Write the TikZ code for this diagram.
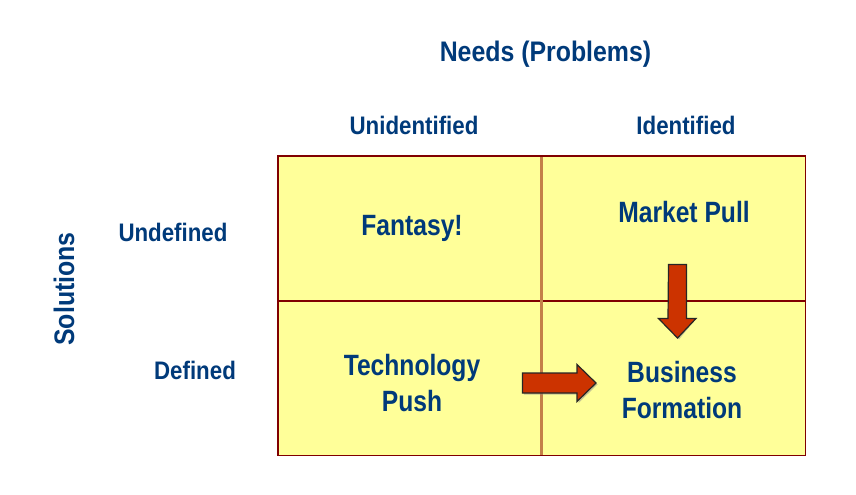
\documentclass[tikz,border=0pt]{standalone}
\usepackage{fontspec}
\setmainfont{Liberation Sans}[FakeStretch=0.88]
\newfontfamily\cellfont{Liberation Sans}[FakeStretch=0.84]
\begin{document}
\definecolor{inkblue}{RGB}{0,58,122}
\definecolor{cellfill}{RGB}{255,255,153}
\definecolor{gridred}{RGB}{128,0,0}
\definecolor{gridtan}{RGB}{196,128,72}
\definecolor{arrowred}{RGB}{204,51,0}
\begin{tikzpicture}[x=0.75pt,y=-0.75pt,
  lbl/.style={text=inkblue,font=\bfseries\fontsize{19}{22}\selectfont,inner sep=0pt},
  title/.style={text=inkblue,font=\bfseries\fontsize{21.2}{25}\selectfont,inner sep=0pt},
  celltext/.style={text=inkblue,font=\cellfont\bfseries\fontsize{22}{26.5}\selectfont,align=center,inner sep=0pt},
  cell/.style={fill=cellfill,draw=none,minimum width=263.5*0.75pt,inner sep=0pt},
  toprow/.style={cell,minimum height=145*0.75pt},
  botrow/.style={cell,minimum height=154*0.75pt},
  blockarrow/.style={fill=arrowred,draw=black!85,line width=0.9pt,line join=miter}]
\useasboundingbox (0,0) rectangle (856,495);
\fill[white] (0,0) rectangle (856,495);

% quadrant cells
\node[toprow,anchor=north west] (c11) at (278,156) {};
\node[toprow,anchor=north west] (c12) at (541.5,156) {};
\node[botrow,anchor=north west] (c21) at (278,301) {};
\node[botrow,anchor=north west] (c22) at (541.5,301) {};

% grid lines
\draw[gridred,line width=0.9pt] (c21.north west) -- (c22.north east);
\draw[gridtan,line width=1.6pt] (c12.north west) -- (c22.south west);
\draw[gridred,line width=0.9pt] (c11.north west) rectangle (c22.south east);

% axis titles and headings
\node[title] (needs) at (545.5,54) {Needs (Problems)};
\node[title,rotate=90] (sol) at (64,289) {Solutions};
\node[lbl] (unid) at (414,125) {Unidentified};
\node[lbl] (ident) at (686,125) {Identified};
\node[lbl] (undef) at (173,232) {Undefined};
\node[lbl] (def) at (195,370) {Defined};

% quadrant contents
\node[celltext] (fantasy) at (412,228) {Fantasy!};
\node[celltext] (pull) at (684,212) {Market Pull};
\node[celltext] (push) at (412,383) {Technology\\Push};
\node[celltext] (biz) at (682,390) {Business\\Formation};

% block arrows
\coordinate (rs) at (522.5,383);
\coordinate (ds) at (677.5,264.5);
\fill[black!45,opacity=0.5,shift={(1.5,1.5)}]
  (rs) ++(0,-10) -- ++(54.5,0) -- ++(0,-8.5) -- (596,383) -- (577,401.5) -- ++(0,-8.5) -- ++(-54.5,0) -- cycle;
\draw[blockarrow]
  (rs) ++(0,-10) -- ++(54.5,0) -- ++(0,-8.5) -- (596,383) -- (577,401.5) -- ++(0,-8.5) -- ++(-54.5,0) -- cycle;
\fill[black!45,opacity=0.5,shift={(1.5,1.5)}]
  (ds) ++(-9,0) -- ++(18,0) -- ++(0,54) -- ++(9.5,0) -- (677.5,338) -- (658.5,318.5) -- ++(9.5,0) -- cycle;
\draw[blockarrow]
  (ds) ++(-9,0) -- ++(18,0) -- ++(0,54) -- ++(9.5,0) -- (677.5,338) -- (658.5,318.5) -- ++(9.5,0) -- cycle;
\end{tikzpicture}
\end{document}
